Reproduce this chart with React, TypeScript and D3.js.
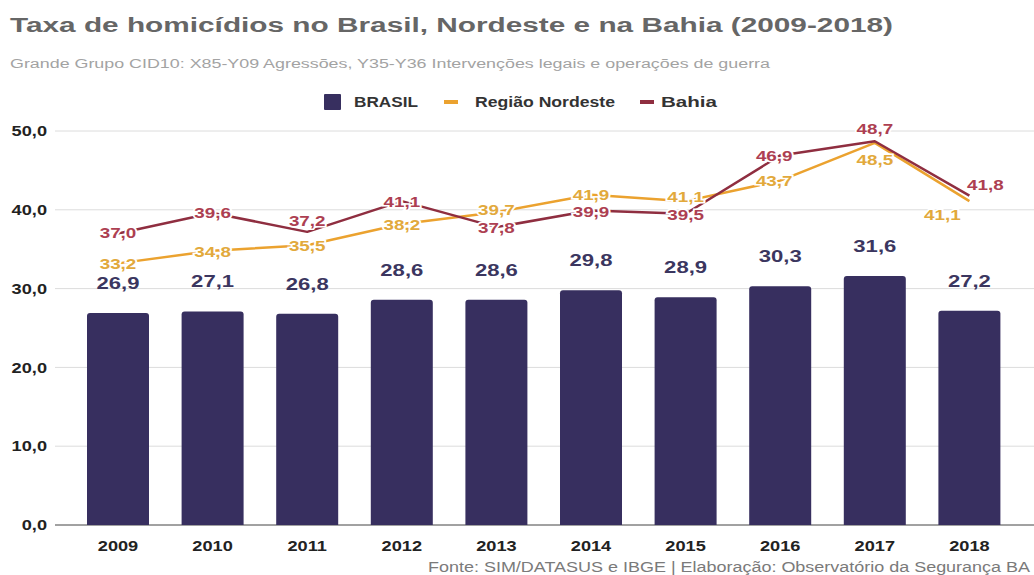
import React from 'react';
import * as d3 from 'd3';

const years = ['2009', '2010', '2011', '2012', '2013', '2014', '2015', '2016', '2017', '2018'];
const brasil = [26.9, 27.1, 26.8, 28.6, 28.6, 29.8, 28.9, 30.3, 31.6, 27.2];
const nordeste = [33.2, 34.8, 35.5, 38.2, 39.7, 41.9, 41.1, 43.7, 48.5, 41.1];
const bahia = [37.0, 39.6, 37.2, 41.1, 37.8, 39.9, 39.5, 46.9, 48.7, 41.8];
const yTicks = [0, 10, 20, 30, 40, 50];

// label nudges (dx, dy) so the labels don't collide
const bahiaNudge = [[0, 0], [0, 0], [0, -11], [0, 1], [0, 1], [0, 2], [0, 2], [-6, 1], [0, -12], [16, -10]];
const nordesteNudge = [[0, 1], [0, 1], [0, 1], [0, 1], [0, -2], [0, 0], [0, -4], [-6, 1], [0, 17], [-27, 14]];

const W = 1034;
const H = 575;
const FONT = '"Liberation Sans", Arial, sans-serif';
const SX = 1.3; // text in the reference is stretched horizontally

const C_BAR = '#372f5f';
const C_NE = '#eba22f';
const C_NE_TXT = '#e2a93c';
const C_BA = '#8f2e40';
const C_BA_TXT = '#ad3f52';

const fmt = (v: number) => v.toFixed(1).replace('.', ',');

const T = ({ x, y, size, fill, anchor = 'middle', weight = 'bold', halo = false, children }: any) => (
  <text
    transform={`translate(${x},${y}) scale(${SX},1)`}
    textAnchor={anchor}
    dominantBaseline="central"
    fontFamily={FONT}
    fontSize={size}
    fontWeight={weight}
    fill={fill}
    stroke={halo ? '#fff' : 'none'}
    strokeWidth={halo ? 3 : 0}
    paintOrder="stroke"
  >
    {children}
  </text>
);

const LegendText = ({ x, len, children }: any) => (
  <text x={x} y={102} dominantBaseline="central" fontFamily={FONT} fontSize={14} fontWeight="bold" fill="#333"
    textLength={len} lengthAdjust="spacingAndGlyphs">
    {children}
  </text>
);

export default function App() {
  const x = d3.scalePoint<string>().domain(years).range([70.7, 1016.7]).padding(0.5);
  const y = d3.scaleLinear().domain([0, 50]).range([525, 131]);
  const barW = 62;
  const r = 3;

  const line = d3.line<number>()
    .x((_, i) => x(years[i]) as number)
    .y(d => y(d));

  const barPath = (cx: number, v: number) => {
    const x0 = cx - barW / 2;
    const x1 = cx + barW / 2;
    const top = y(v);
    const bot = y(0);
    return `M${x0},${bot}V${top + r}Q${x0},${top} ${x0 + r},${top}H${x1 - r}Q${x1},${top} ${x1},${top + r}V${bot}Z`;
  };

  return (
    <svg width={W} height={H} style={{ position: 'absolute', left: 0, top: 0, background: '#fff' }}>
      {/* title */}
      <text x={10} y={32} fontFamily={FONT} fontSize={19.5} fontWeight="bold" fill="#666" textLength={883} lengthAdjust="spacingAndGlyphs">
        Taxa de homicídios no Brasil, Nordeste e na Bahia (2009-2018)
      </text>
      <text x={10} y={68} fontFamily={FONT} fontSize={12.5} fill="#a3a3a3" textLength={760} lengthAdjust="spacingAndGlyphs">
        Grande Grupo CID10: X85-Y09 Agressões, Y35-Y36 Intervenções legais e operações de guerra
      </text>

      {/* legend */}
      <rect x={324} y={94} width={17} height={16} rx={1} fill={C_BAR} />
      <LegendText x={354} len={64}>BRASIL</LegendText>
      <rect x={444} y={100} width={14} height={4} fill={C_NE} />
      <LegendText x={475} len={140}>Região Nordeste</LegendText>
      <rect x={640} y={100} width={14} height={4} fill={C_BA} />
      <LegendText x={661} len={56}>Bahia</LegendText>

      {/* grid + y labels */}
      {yTicks.map(t => (
        <g key={t}>
          <line x1={55} x2={W} y1={y(t)} y2={y(t)} stroke={t === 0 ? '#444' : '#dcdcdc'} strokeWidth={1} />
          <T x={47} y={y(t)} size={14} fill="#222" anchor="end">{fmt(t)}</T>
        </g>
      ))}

      {/* bars */}
      {brasil.map((v, i) => (
        <path key={years[i]} d={barPath(x(years[i]) as number, v)} fill={C_BAR} />
      ))}
      {brasil.map((v, i) => (
        <T key={'bl' + i} x={x(years[i])} y={y(v) - 30} size={17} fill="#3b365f">{fmt(v)}</T>
      ))}

      {/* lines */}
      <path d={line(nordeste) as string} fill="none" stroke={C_NE} strokeWidth={2.5} strokeLinejoin="round" />
      <path d={line(bahia) as string} fill="none" stroke={C_BA} strokeWidth={2.5} strokeLinejoin="round" />

      {nordeste.map((v, i) => (
        <T key={'ne' + i} x={(x(years[i]) as number) + nordesteNudge[i][0]} y={y(v) + nordesteNudge[i][1]} size={14.5} fill={C_NE_TXT} halo>
          {fmt(v)}
        </T>
      ))}
      {bahia.map((v, i) => (
        <T key={'ba' + i} x={(x(years[i]) as number) + bahiaNudge[i][0]} y={y(v) + bahiaNudge[i][1]} size={14.5} fill={C_BA_TXT} halo>
          {fmt(v)}
        </T>
      ))}

      {/* x labels */}
      {years.map(yr => (
        <T key={yr} x={x(yr)} y={546} size={14} fill="#222">{yr}</T>
      ))}

      {/* footer */}
      <text x={1030} y={572} textAnchor="end" fontFamily={FONT} fontSize={14} fill="#7a7a7a" textLength={602} lengthAdjust="spacingAndGlyphs">
        Fonte: SIM/DATASUS e IBGE | Elaboração: Observatório da Segurança BA
      </text>
    </svg>
  );
}
